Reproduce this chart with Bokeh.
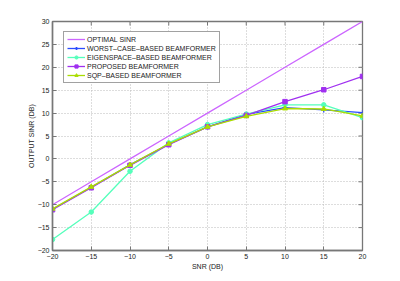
import math
from bokeh.plotting import figure
from bokeh.models import Range1d, FixedTicker, Legend
from bokeh.embed import file_html
from bokeh.resources import INLINE

snr = [-20, -15, -10, -5, 0, 5, 10, 15, 20]
optimal = [-10, -5, 0, 5, 10, 15, 20, 25, 30]
worst_case = [-11.0, -6.2, -1.3, 3.2, 7.0, 9.7, 11.2, 10.7, 10.1]
eigenspace = [-17.6, -11.6, -2.7, 3.5, 7.5, 9.8, 11.8, 11.8, 9.0]
proposed = [-11.1, -6.3, -1.4, 3.1, 7.0, 9.5, 12.5, 15.1, 18.0]
sqp = [-10.9, -6.1, -1.3, 3.3, 7.0, 9.3, 11.0, 10.9, 9.4]

x_ticks = [-20, -15, -10, -5, 0, 5, 10, 15, 20]
y_ticks = [-20, -15, -10, -5, 0, 5, 10, 15, 20, 25, 30]
x_min, x_max = -20, 20
y_min, y_max = -20, 30

FONT = "Liberation Sans"

p = figure(width=398, height=279, output_backend="svg", toolbar_location=None,
           x_range=Range1d(x_min, x_max), y_range=Range1d(y_min, y_max),
           min_border_left=52, min_border_right=36, min_border_top=21, min_border_bottom=29)
p.outline_line_color = "#777777"
p.outline_line_width = 1.3

for ax in [p.xaxis[0], p.yaxis[0]]:
    ax.major_tick_in = 4
    ax.major_tick_out = 0
    ax.minor_tick_line_color = None
    ax.axis_line_color = "#777777"
    ax.axis_line_width = 1.5
    ax.major_tick_line_color = "#777777"
    ax.major_label_text_font = FONT
    ax.major_label_text_font_size = "7px"
    ax.major_label_text_color = "#222222"
    ax.axis_label_text_font = FONT
    ax.axis_label_text_font_size = "7px"
    ax.axis_label_text_font_style = "normal"
    ax.axis_label_text_color = "#222222"

p.xaxis[0].ticker = FixedTicker(ticks=x_ticks)
p.yaxis[0].ticker = FixedTicker(ticks=y_ticks)
p.xaxis[0].axis_label = "SNR (DB)"
p.yaxis[0].axis_label = "OUTPUT SINR (DB)"
p.xaxis[0].major_label_standoff = 3
p.yaxis[0].major_label_standoff = 3
p.xaxis[0].axis_label_standoff = 1
p.yaxis[0].axis_label_standoff = 0

# box ticks on right and top edges (inward), as in the reference frame
p.ray(x=[x_max] * len(y_ticks), y=y_ticks, length=4, length_units="screen",
      angle=math.pi, line_color="#777777", line_width=1)
p.ray(x=x_ticks, y=[y_max] * len(x_ticks), length=4, length_units="screen",
      angle=-math.pi / 2, line_color="#777777", line_width=1)

p.xgrid.ticker = FixedTicker(ticks=x_ticks)
p.ygrid.ticker = FixedTicker(ticks=y_ticks)
for g in [p.xgrid[0], p.ygrid[0]]:
    g.grid_line_color = "#bbbbbb"
    g.grid_line_dash = "1 2"
    g.grid_line_width = 1

r0 = p.line(snr, optimal, line_color="#cc66ff", line_width=1.3)
r1 = p.line(snr, worst_case, line_color="#2a4cff", line_width=1.3)
m1 = p.scatter(snr, worst_case, marker="cross", size=5, line_color="#2a4cff", line_width=1.3)
r2 = p.line(snr, eigenspace, line_color="#55ffbb", line_width=1.3)
m2 = p.scatter(snr, eigenspace, marker="circle", size=4.5, line_color="#55ffbb", fill_color="#55ffbb")
r3 = p.line(snr, proposed, line_color="#a030f0", line_width=1.3)
m3 = p.scatter(snr, proposed, marker="square", size=4.5, line_color="#a030f0", fill_color="#a030f0")
r4 = p.line(snr, sqp, line_color="#aadd00", line_width=1.3)
m4 = p.scatter(snr, sqp, marker="triangle", size=5, line_color="#aadd00", fill_color="#aadd00")

legend = Legend(items=[
    ("OPTIMAL SINR", [r0]),
    ("WORST\u2013CASE\u2013BASED BEAMFORMER", [r1, m1]),
    ("EIGENSPACE\u2013BASED BEAMFORMER", [r2, m2]),
    ("PROPOSED BEAMFORMER", [r3, m3]),
    ("SQP\u2013BASED BEAMFORMER", [r4, m4]),
], location=(11, 167))
legend.label_text_font = FONT
legend.label_text_font_size = "7px"
legend.label_text_color = "#222222"
legend.label_height = 7
legend.label_standoff = 2
legend.glyph_height = 8
legend.glyph_width = 18
legend.spacing = 1
legend.padding = 3
legend.margin = 0
legend.border_line_color = "#444444"
legend.background_fill_alpha = 1
p.add_layout(legend)

out = file_html(p, INLINE)
open("out.html", "w").write(out)
